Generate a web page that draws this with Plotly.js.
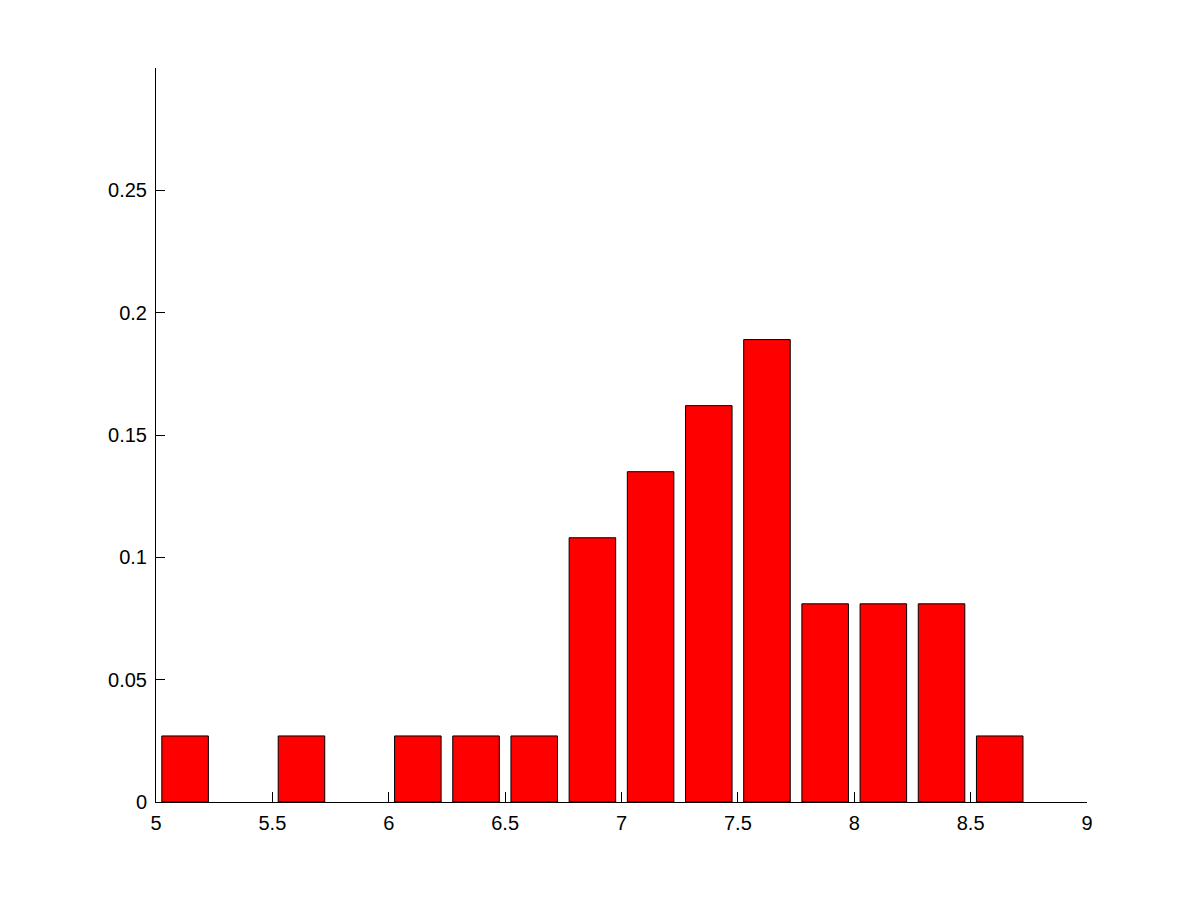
<!DOCTYPE html>
<html>
<head>
<meta charset="utf-8">
<script src="https://cdn.plot.ly/plotly-3.0.1.min.js"></script>
<style>html,body{margin:0;padding:0;background:#fff;}#chart{width:1201px;height:901px;}</style>
</head>
<body>
<div id="chart"></div>
<script>
var binCenters = [5.125, 5.375, 5.625, 5.875, 6.125, 6.375, 6.625, 6.875, 7.125, 7.375, 7.625, 7.875, 8.125, 8.375, 8.625];
var frequencies = [0.027, 0, 0.027, 0, 0.027, 0.027, 0.027, 0.108, 0.135, 0.162, 0.189, 0.081, 0.081, 0.081, 0.027];
var xTicks = [5, 5.5, 6, 6.5, 7, 7.5, 8, 8.5, 9];
var xTickLabels = ['5', '5.5', '6', '6.5', '7', '7.5', '8', '8.5', '9'];
var yTicks = [0, 0.05, 0.1, 0.15, 0.2, 0.25];
var yTickLabels = ['0', '0.05', '0.1', '0.15', '0.2', '0.25'];

var outlineWidths = frequencies.map(function (v) { return v > 0 ? 1 : 0; });

var trace = {
  type: 'bar',
  x: binCenters,
  y: frequencies,
  width: 0.2,
  marker: {color: '#ff0000', line: {color: '#000000', width: outlineWidths}},
  hoverinfo: 'x+y'
};

var layout = {
  width: 1201,
  height: 901,
  margin: {l: 156, r: 114, t: 68, b: 99, pad: 0},
  paper_bgcolor: '#ffffff',
  plot_bgcolor: '#ffffff',
  showlegend: false,
  font: {family: 'Liberation Sans, Arial, sans-serif', size: 20, color: '#000'},
  xaxis: {
    range: [5, 9],
    tickvals: xTicks,
    ticktext: xTickLabels,
    ticks: 'inside',
    ticklen: 10,
    tickcolor: '#000',
    tickwidth: 1,
    ticklabelstandoff: 3,
    showline: true,
    linecolor: '#000',
    linewidth: 1,
    showgrid: false,
    zeroline: false,
    mirror: false,
    fixedrange: true
  },
  yaxis: {
    range: [0, 0.3],
    tickvals: yTicks,
    ticktext: yTickLabels,
    ticks: 'inside',
    ticklen: 9,
    tickcolor: '#000',
    tickwidth: 1,
    ticklabelstandoff: 4,
    showline: true,
    linecolor: '#000',
    linewidth: 1,
    showgrid: false,
    zeroline: false,
    mirror: false,
    fixedrange: true
  }
};

Plotly.newPlot('chart', [trace], layout, {displayModeBar: false, staticPlot: true});
</script>
</body>
</html>
